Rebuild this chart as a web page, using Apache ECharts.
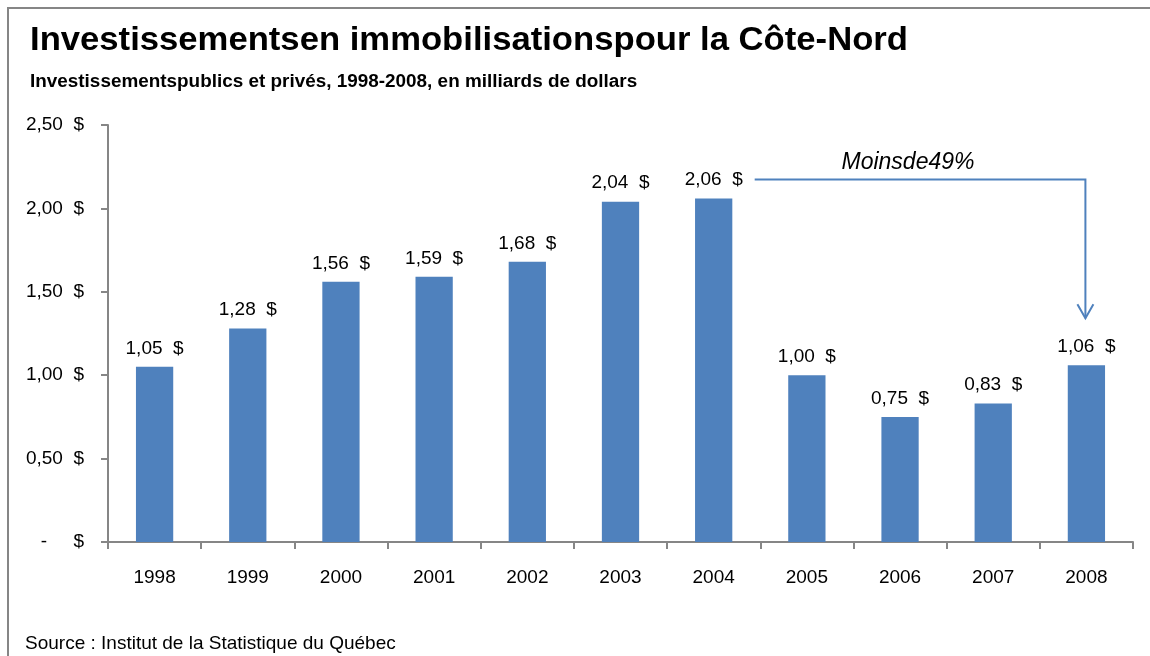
<!DOCTYPE html>
<html>
<head>
<meta charset="utf-8">
<script src="https://cdn.jsdelivr.net/npm/echarts@6/dist/echarts.min.js"></script>
<style>
html, body { margin: 0; padding: 0; background: #fff; }
#main { width: 1150px; height: 656px; }
</style>
</head>
<body>
<div id="main"></div>
<script>
var years = ['1998', '1999', '2000', '2001', '2002', '2003', '2004', '2005', '2006', '2007', '2008'];
var values = [1.05, 1.28, 1.56, 1.59, 1.68, 2.04, 2.06, 1.00, 0.75, 0.83, 1.06];
var yTicks = [0, 0.5, 1, 1.5, 2, 2.5];

var FONT = 'Liberation Sans, Arial, sans-serif';
var AXIS_COLOR = '#868686';
var BAR_COLOR = '#4F81BD';

function money(v) {
    if (v == 0) return '-     $';
    return v.toFixed(2).replace('.', ',') + '  $';
}

var myChart = echarts.init(document.getElementById('main'));

myChart.setOption({
    animation: false,
    backgroundColor: '#fff',
    grid: {
        left: 108,
        right: 17,
        top: 125,
        bottom: 114
    },
    xAxis: {
        type: 'category',
        data: years,
        axisLine: { lineStyle: { color: AXIS_COLOR, width: 2 } },
        axisTick: { show: true, length: 7, lineStyle: { color: AXIS_COLOR, width: 2 } },
        axisLabel: { color: '#000', fontFamily: FONT, fontSize: 19, margin: 26 }
    },
    yAxis: {
        type: 'value',
        min: yTicks[0],
        max: yTicks[yTicks.length - 1],
        interval: 0.5,
        splitLine: { show: false },
        axisLine: { show: true, lineStyle: { color: AXIS_COLOR, width: 2 } },
        axisTick: { show: true, length: 7, lineStyle: { color: AXIS_COLOR, width: 2 } },
        axisLabel: {
            color: '#000', fontFamily: FONT, fontSize: 19, margin: 24,
            formatter: function (v) { return money(v); }
        }
    },
    series: [{
        type: 'bar',
        data: values,
        barWidth: '40%',
        itemStyle: { color: BAR_COLOR },
        label: {
            show: true,
            position: 'top',
            distance: 9,
            color: '#000',
            fontFamily: FONT,
            fontSize: 19,
            formatter: function (p) { return money(p.value); }
        }
    }]
});

// annotation arrow from the 2004 label to the 2008 bar
var i04 = years.indexOf('2004');
var i08 = years.indexOf('2008');
var p04 = myChart.convertToPixel({ seriesIndex: 0 }, [i04, values[i04]]);
var p08 = myChart.convertToPixel({ seriesIndex: 0 }, [i08, values[i08]]);
var lineY = p04[1] - 19;
var startX = p04[0] + 41;
var endX = p08[0] - 1;
var tipY = p08[1] - 47;

myChart.setOption({
    graphic: [
        {
            type: 'rect',
            shape: { x: 8, y: 8, width: 1200, height: 800 },
            style: { fill: null, stroke: AXIS_COLOR, lineWidth: 2 },
            silent: true
        },
        {
            type: 'text',
            x: 30, y: 24,
            scaleX: 1.05,
            style: {
                text: 'Investissementsen immobilisationspour la Côte-Nord',
                fill: '#000',
                font: 'bold 33px ' + FONT
            }
        },
        {
            type: 'text',
            x: 30, y: 73,
            scaleX: 1.05,
            style: {
                text: 'Investissementspublics et privés, 1998-2008, en milliards de dollars',
                fill: '#000',
                font: 'bold 18px ' + FONT
            }
        },
        {
            type: 'text',
            left: 25, top: 634,
            style: {
                text: 'Source : Institut de la Statistique du Québec',
                fill: '#000',
                font: '19px ' + FONT
            }
        },
        {
            type: 'polyline',
            shape: { points: [[startX, lineY], [endX, lineY], [endX, tipY]] },
            style: { stroke: BAR_COLOR, lineWidth: 2, fill: null }
        },
        {
            type: 'polyline',
            shape: { points: [[endX - 8, tipY - 14], [endX, tipY], [endX + 8, tipY - 14]] },
            style: { stroke: BAR_COLOR, lineWidth: 2, fill: null }
        },
        {
            type: 'text',
            x: 908,
            y: lineY - 5,
            style: {
                text: 'Moinsde49%',
                fill: '#000',
                font: 'italic 23px ' + FONT,
                align: 'center',
                verticalAlign: 'bottom'
            }
        }
    ]
});
</script>
</body>
</html>
